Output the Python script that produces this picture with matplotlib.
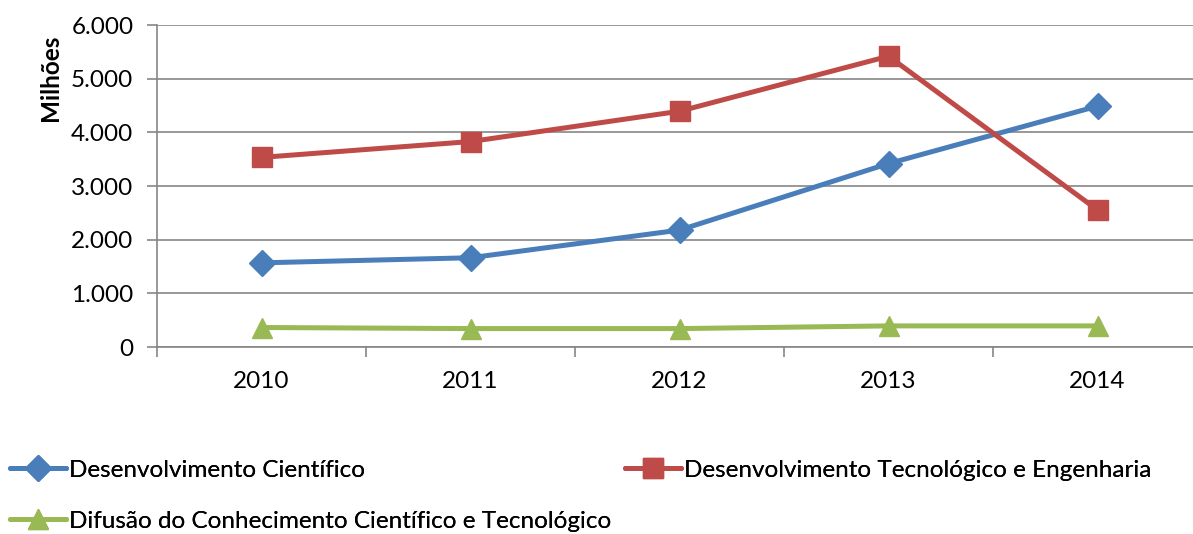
import numpy as np
import matplotlib
matplotlib.use('Agg')
import matplotlib.pyplot as plt
from matplotlib.ticker import FuncFormatter, FixedLocator

plt.rcParams['font.family'] = ['Lato', 'DejaVu Sans']

anos = ['2010', '2011', '2012', '2013', '2014']
desenv_cientifico = [1570, 1665, 2180, 3420, 4490]
desenv_tecnologico = [3535, 3830, 4395, 5420, 2555]
difusao = [365, 345, 345, 395, 395]

series = [
    ('Desenvolvimento Científico', desenv_cientifico, '#4A7EBB', 'D', 13),
    ('Desenvolvimento Tecnológico e Engenharia', desenv_tecnologico, '#BE4B48', 's', 14),
    ('Difusão do Conhecimento Científico e Tecnológico', difusao, '#98B954', '^', 15),
]

FS = 17.5
W, H = 1193, 534

fig = plt.figure(figsize=(W / 100, H / 100), dpi=100)
ax = fig.add_axes([0.1316, 0.350, 0.876, 0.603])

x = np.arange(len(anos))
handles = []
for nome, vals, cor, mk, ms in series:
    h, = ax.plot(x, vals, color=cor, lw=3.6, marker=mk, ms=ms,
                 solid_capstyle='round', label=nome, zorder=3)
    handles.append(h)

ax.set_xlim(-0.5, len(anos) - 0.5)
ax.set_ylim(0, 6000)
ax.yaxis.set_major_locator(FixedLocator(np.arange(0, 6001, 1000)))
ax.yaxis.set_major_formatter(FuncFormatter(lambda v, p: f'{v:,.0f}'.replace(',', '.')))
ax.set_xticks(x)
ax.set_xticklabels(anos)
ax.xaxis.set_minor_locator(FixedLocator(np.arange(-0.5, len(anos), 1.0)))

ax.grid(axis='y', color='#868686', lw=1.2, zorder=0)
for s in ['top', 'right']:
    ax.spines[s].set_visible(False)
ax.spines['left'].set_color('#868686')
ax.spines['bottom'].set_color('#868686')
ax.spines['left'].set_linewidth(1.2)
ax.spines['bottom'].set_linewidth(1.2)

ax.tick_params(axis='y', length=7, width=1.2, color='#868686', labelsize=FS, pad=10)
ax.tick_params(axis='x', which='major', length=0, labelsize=FS, pad=17)
ax.tick_params(axis='x', which='minor', length=7, width=1.2, color='#868686')

# rótulo do eixo y fica perto do topo, como no original
fig.text(50 / W, 1 - 78 / H, 'Milhões', rotation=90, fontsize=FS,
         fontweight='bold', ha='center', va='center')

# legenda: uma entrada por caixa, posicionada como no original
pos_legenda = [(10, 470), (625, 470), (10, 521)]
for h, (px, py) in zip(handles, pos_legenda):
    leg = fig.legend(handles=[h], loc='center left',
                     bbox_to_anchor=(px / W, 1 - py / H),
                     frameon=False, fontsize=FS, handlelength=2.3,
                     handletextpad=0.12, borderpad=0, borderaxespad=0)
    fig.add_artist(leg)

fig.savefig('out.png', dpi=100)
